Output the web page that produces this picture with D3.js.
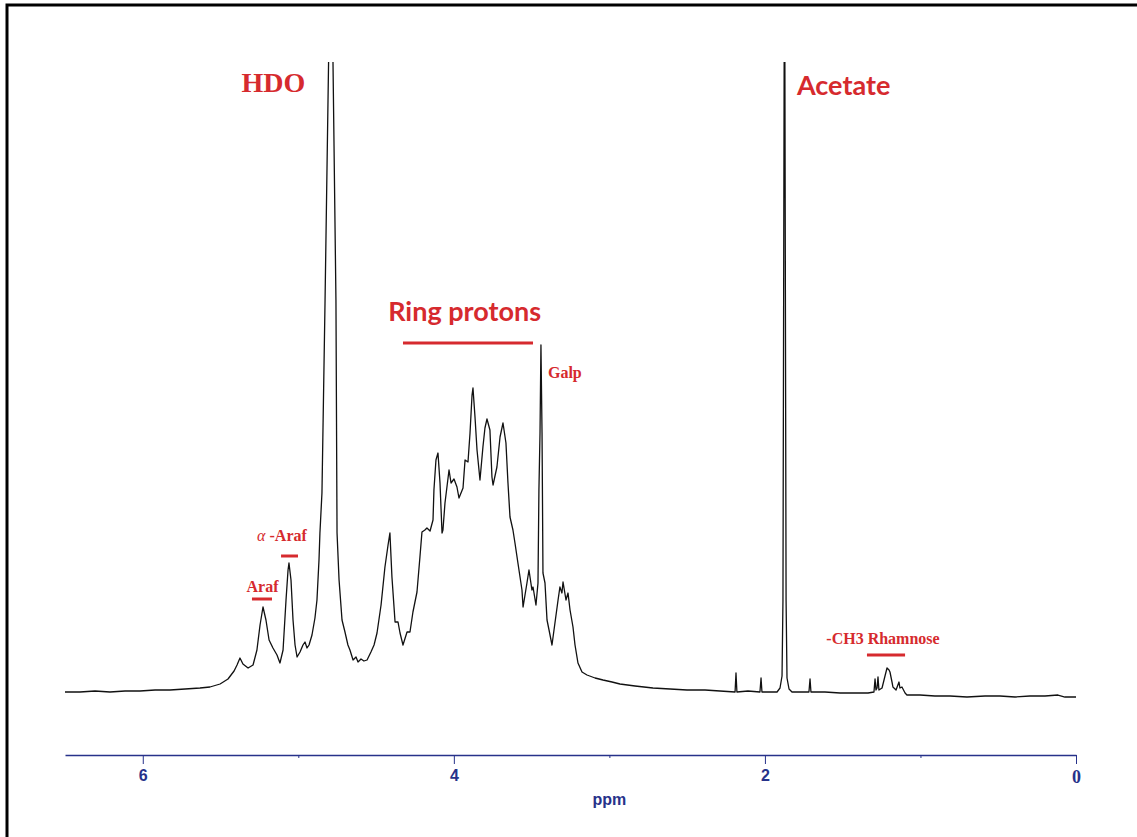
<!DOCTYPE html>
<html>
<head>
<meta charset="utf-8">
<script src="https://cdn.jsdelivr.net/npm/d3@7"></script>
<style>
  body { margin: 0; background: #fff; }
  svg { display: block; }
</style>
</head>
<body>
<script>
// chemical shift (ppm) and intensity (arbitrary units)
const ppm = [6.500, 6.404, 6.307, 6.211, 6.114, 6.018, 5.921, 5.825, 5.728, 5.632,
  5.568, 5.503, 5.452, 5.413, 5.394, 5.375, 5.356, 5.323, 5.291, 5.266,
  5.246, 5.227, 5.208, 5.188, 5.163, 5.137, 5.118, 5.098, 5.079, 5.066,
  5.060, 5.047, 5.034, 5.021, 5.008, 4.989, 4.970, 4.957, 4.944, 4.931,
  4.912, 4.893, 4.880, 4.867, 4.861, 4.848, 4.828, 4.790, 4.758, 4.751,
  4.738, 4.719, 4.700, 4.681, 4.668, 4.648, 4.629, 4.616, 4.597, 4.578,
  4.558, 4.533, 4.513, 4.494, 4.468, 4.443, 4.423, 4.411, 4.398, 4.378,
  4.359, 4.346, 4.327, 4.301, 4.282, 4.263, 4.237, 4.218, 4.205, 4.186,
  4.173, 4.153, 4.134, 4.128, 4.115, 4.102, 4.089, 4.076, 4.070, 4.057,
  4.031, 4.018, 3.999, 3.980, 3.967, 3.941, 3.928, 3.909, 3.896, 3.883,
  3.877, 3.864, 3.851, 3.832, 3.813, 3.800, 3.787, 3.768, 3.755, 3.748,
  3.723, 3.703, 3.684, 3.665, 3.652, 3.639, 3.620, 3.607, 3.588, 3.562,
  3.555, 3.530, 3.517, 3.498, 3.491, 3.472, 3.459, 3.453, 3.446, 3.440,
  3.433, 3.427, 3.414, 3.401, 3.388, 3.369, 3.350, 3.330, 3.318, 3.305,
  3.298, 3.279, 3.266, 3.253, 3.234, 3.221, 3.202, 3.176, 3.144, 3.092,
  3.041, 2.983, 2.932, 2.835, 2.720, 2.610, 2.501, 2.385, 2.289, 2.192,
  2.186, 2.180, 2.109, 2.032, 2.025, 2.019, 1.967, 1.922, 1.903, 1.890,
  1.884, 1.874, 1.864, 1.858, 1.845, 1.826, 1.774, 1.717, 1.710, 1.704,
  1.614, 1.517, 1.421, 1.337, 1.299, 1.292, 1.286, 1.279, 1.273, 1.267,
  1.247, 1.228, 1.215, 1.202, 1.196, 1.183, 1.177, 1.157, 1.138, 1.132,
  1.119, 1.099, 1.087, 1.003, 0.907, 0.810, 0.701, 0.585, 0.489, 0.392,
  0.296, 0.199, 0.116, 0.071, 0.000];

const intensity = [8, 8, 9, 8, 9, 9, 10, 10, 11, 12,
  13, 16, 21, 29, 35, 42, 36, 32, 35, 50,
  75, 93, 80, 60, 52, 45, 37, 50, 100, 130,
  137, 120, 80, 55, 43, 48, 55, 58, 52, 55,
  65, 82, 100, 140, 167, 207, 400, 800, 400, 167,
  120, 80, 68, 55, 50, 40, 43, 38, 41, 39,
  40, 48, 55, 67, 95, 133, 155, 167, 123, 78,
  78, 67, 55, 68, 68, 88, 108, 143, 168, 170,
  172, 169, 180, 210, 240, 247, 217, 167, 170, 197,
  230, 217, 221, 213, 202, 212, 240, 238, 267, 305,
  312, 283, 250, 220, 253, 272, 281, 270, 223, 215,
  233, 263, 277, 257, 217, 183, 170, 157, 137, 110,
  93, 117, 130, 110, 113, 95, 117, 210, 267, 355,
  267, 127, 117, 80, 70, 55, 77, 100, 113, 107,
  118, 100, 107, 90, 73, 55, 37, 28, 25, 22,
  20, 18, 16, 14, 12, 11, 10, 10, 9, 8,
  27, 8, 9, 8, 22, 8, 8, 8, 12, 24,
  100, 800, 100, 22, 11, 8, 8, 8, 21, 8,
  8, 7, 7, 7, 8, 21, 10, 12, 23, 10,
  12, 24, 32, 30, 28, 18, 13, 10, 18, 12,
  13, 7, 5, 5, 4, 4, 3, 4, 4, 3,
  4, 4, 5, 3, 3];

const major_ticks = [6, 4, 2, 0];
const minor_ticks = [5, 3, 1];

// peak annotations: label, ppm of anchor, bar range in ppm
const big_labels = [
  {text: "HDO", at: 5.16, anchor: "middle", baseline: 92, font: "Liberation Serif", size: 28},
  {text: "Acetate", at: 1.794, anchor: "start", baseline: 95, font: "Lato", size: 27},
  {text: "Ring protons", at: 3.931, anchor: "middle", baseline: 321, font: "Lato", size: 27}
];
const small_labels = [
  {text: "Galp", at: 3.395, anchor: "start", baseline: 378},
  {text: "-Araf", greek: "\u03b1 ", at: 5.105, anchor: "middle", baseline: 541},
  {text: "Araf", at: 5.230, anchor: "middle", baseline: 592},
  {text: "-CH3 Rhamnose", at: 1.241, anchor: "middle", baseline: 644}
];
const bars = [
  {from: 4.327, to: 3.491, y: 343},
  {from: 5.111, to: 5.002, y: 556},
  {from: 5.298, to: 5.169, y: 599},
  {from: 1.344, to: 1.099, y: 655}
];

const W = 1137, H = 837;
const red = "#d62a2e";
const navy = "#27328a";

let svg = d3.select("body").append("svg")
    .attr("width", W)
    .attr("height", H);

// outer frame (runs off the right and bottom edges)
svg.append("rect")
    .attr("x", 7).attr("y", 5)
    .attr("width", 1200).attr("height", 900)
    .attr("fill", "none")
    .attr("stroke", "#000")
    .attr("stroke-width", 3);

let x = d3.scaleLinear().domain([6.5, 0]).range([65, 1076]);
let y = d3.scaleLinear().domain([0, 640]).range([700, 60]);

svg.append("clipPath").attr("id", "clip")
  .append("rect")
    .attr("x", 0).attr("y", 62)
    .attr("width", W).attr("height", 700);

let spectrum = ppm.map((p, i) => [p, intensity[i]]);

let line = d3.line()
    .x(d => x(d[0]))
    .y(d => y(d[1]));

svg.append("path")
    .datum(spectrum)
    .attr("clip-path", "url(#clip)")
    .attr("d", line)
    .attr("fill", "none")
    .attr("stroke", "#111")
    .attr("stroke-width", 1.3)
    .attr("stroke-linejoin", "round");

// axis
let axis_y = 755;
let major_axis = d3.axisBottom(x)
    .tickValues(major_ticks)
    .tickSize(9)
    .tickSizeOuter(0)
    .tickPadding(6)
    .tickFormat(d3.format("d"));

let gx = svg.append("g")
    .attr("transform", "translate(0," + axis_y + ")")
    .call(major_axis);
gx.select(".domain").attr("stroke", navy).attr("stroke-width", 1.3);
gx.selectAll(".tick line").attr("stroke", navy).attr("stroke-width", 1);
gx.selectAll(".tick text")
    .attr("fill", navy)
    .attr("font-family", "'Liberation Sans Narrow', 'Liberation Sans', sans-serif")
    .attr("font-weight", "bold")
    .attr("font-size", 16);
gx.selectAll(".tick text")
    .filter(d => d === 0)
    .attr("font-family", "'Liberation Serif', serif")
    .attr("font-size", 18);

let minor_axis = d3.axisBottom(x)
    .tickValues(minor_ticks)
    .tickSize(3)
    .tickSizeOuter(0)
    .tickFormat("");
let gm = svg.append("g")
    .attr("transform", "translate(0," + axis_y + ")")
    .call(minor_axis);
gm.select(".domain").remove();
gm.selectAll(".tick line").attr("stroke", navy);

svg.append("text")
    .attr("x", x(3.0))
    .attr("y", 805)
    .attr("text-anchor", "middle")
    .attr("fill", navy)
    .attr("font-family", "'Liberation Sans Narrow', 'Liberation Sans', sans-serif")
    .attr("font-weight", "bold")
    .attr("font-size", 16)
    .text("ppm");

// annotations
svg.selectAll(".big-label")
  .data(big_labels)
  .enter().append("text")
    .attr("class", "big-label")
    .attr("x", d => x(d.at))
    .attr("y", d => d.baseline)
    .attr("text-anchor", d => d.anchor)
    .attr("fill", red)
    .attr("font-family", d => "'" + d.font + "'")
    .attr("font-weight", "bold")
    .attr("font-size", d => d.size)
    .text(d => d.text);

let sl = svg.selectAll(".small-label")
  .data(small_labels)
  .enter().append("text")
    .attr("class", "small-label")
    .attr("x", d => x(d.at))
    .attr("y", d => d.baseline)
    .attr("text-anchor", d => d.anchor)
    .attr("fill", red)
    .attr("font-family", "'Liberation Serif', serif")
    .attr("font-weight", "bold")
    .attr("font-size", 16);
sl.filter(d => d.greek)
  .append("tspan")
    .attr("font-style", "italic")
    .attr("font-weight", "normal")
    .text(d => d.greek);
sl.append("tspan").text(d => d.text);

svg.selectAll(".bar")
  .data(bars)
  .enter().append("line")
    .attr("class", "bar")
    .attr("x1", d => x(d.from))
    .attr("x2", d => x(d.to))
    .attr("y1", d => d.y)
    .attr("y2", d => d.y)
    .attr("stroke", red)
    .attr("stroke-width", 3);
</script>
</body>
</html>
